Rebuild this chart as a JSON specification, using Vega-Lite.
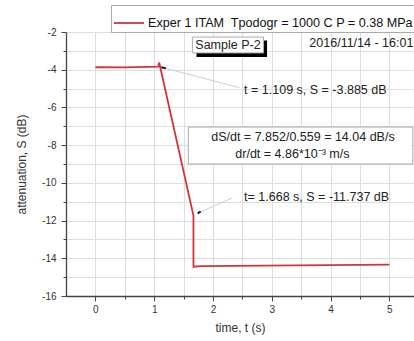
{
  "$schema": "https://vega.github.io/schema/vega-lite/v6.json",
  "width": 348,
  "height": 264,
  "padding": {"left": 66, "top": 32, "right": 0, "bottom": 45},
  "autosize": {"type": "none"},
  "background": "white",
  "config": {
    "font": "Liberation Sans",
    "view": {"stroke": null},
    "legend": {"labelFontSize": 12.6, "labelFont": "Liberation Sans"},
    "axis": {
      "domainColor": "#444",
      "domainWidth": 1.3,
      "tickColor": "#444",
      "tickWidth": 1,
      "labelColor": "#333",
      "labelFont": "Liberation Sans",
      "labelFontSize": 10,
      "titleFont": "Liberation Sans",
      "titleFontSize": 12,
      "titleFontWeight": "normal",
      "titleColor": "#333",
      "gridColor": "#dedede",
      "gridWidth": 1
    }
  },
  "datasets": {
    "line": [
      {"t": 0.0, "S": -3.87, "series": "Exper 1 ITAM\u00a0 Tpodogr = 1000 C P = 0.38 MPa"},
      {"t": 0.5, "S": -3.88, "series": "Exper 1 ITAM\u00a0 Tpodogr = 1000 C P = 0.38 MPa"},
      {"t": 1.07, "S": -3.84, "series": "Exper 1 ITAM\u00a0 Tpodogr = 1000 C P = 0.38 MPa"},
      {"t": 1.085, "S": -3.62, "series": "Exper 1 ITAM\u00a0 Tpodogr = 1000 C P = 0.38 MPa"},
      {"t": 1.668, "S": -11.737, "series": "Exper 1 ITAM\u00a0 Tpodogr = 1000 C P = 0.38 MPa"},
      {"t": 1.668, "S": -14.45, "series": "Exper 1 ITAM\u00a0 Tpodogr = 1000 C P = 0.38 MPa"},
      {"t": 1.8, "S": -14.42, "series": "Exper 1 ITAM\u00a0 Tpodogr = 1000 C P = 0.38 MPa"},
      {"t": 5.0, "S": -14.34, "series": "Exper 1 ITAM\u00a0 Tpodogr = 1000 C P = 0.38 MPa"}
    ],
    "shadow": [
      {"t": 1.72, "t2": 2.92, "S": -2.45, "S2": -3.32}
    ],
    "boxes": [
      {"t": 1.65, "t2": 2.86, "S": -2.27, "S2": -3.11},
      {"t": 1.58, "t2": 5.40, "S": -7.04, "S2": -9.0}
    ],
    "leaders": [
      {"t": 1.2, "S": -3.93, "t2": 2.45, "S2": -4.95},
      {"t": 1.78, "S": -11.55, "t2": 2.33, "S2": -10.8}
    ],
    "arrows": [
      {"t": 1.12, "S": -3.87, "t2": 1.2, "S2": -3.93},
      {"t": 1.74, "S": -11.62, "t2": 1.79, "S2": -11.52}
    ],
    "texts": [
      {"t": 1.70, "S": -2.67, "label": "Sample P-2"},
      {"t": 3.64, "S": -2.58, "label": "2016/11/14 - 16:01"},
      {"t": 2.53, "S": -5.07, "label": "t = 1.109 s, S = -3.885 dB"},
      {"t": 1.97, "S": -7.57, "label": "dS/dt = 7.852/0.559 = 14.04 dB/s"},
      {"t": 2.38, "S": -8.47, "label": "dr/dt = 4.86*10⁻³ m/s"},
      {"t": 2.53, "S": -10.75, "label": "t= 1.668 s, S = -11.737 dB"}
    ]
  },
  "encoding": {
    "x": {
      "field": "t", "type": "quantitative",
      "scale": {"domain": [-0.5, 5.42], "nice": false, "zero": false},
      "axis": {
        "title": "time, t (s)",
        "values": [0, 0.5, 1, 1.5, 2, 2.5, 3, 3.5, 4, 4.5, 5],
        "labelExpr": "datum.value % 1 == 0 ? '' + datum.value : ''",
        "grid": true,
        "tickSize": {"condition": {"test": "datum.value % 1 == 0", "value": 5}, "value": 3},
        "labelPadding": 3,
        "titlePadding": 8
      }
    },
    "y": {
      "field": "S", "type": "quantitative",
      "scale": {"domain": [-16, -2], "nice": false, "zero": false},
      "axis": {
        "title": "attenuation, S (dB)",
        "values": [-16, -15, -14, -13, -12, -11, -10, -9, -8, -7, -6, -5, -4, -3, -2],
        "labelExpr": "datum.value % 2 == 0 ? '' + datum.value : ''",
        "grid": true,
        "tickSize": {"condition": {"test": "datum.value % 2 == 0", "value": 5}, "value": 3},
        "labelPadding": 5,
        "titlePadding": 13
      }
    }
  },
  "layer": [
    {
      "data": {"name": "leaders"},
      "mark": {"type": "rule", "color": "#cfcfcf", "strokeWidth": 1},
      "encoding": {"x2": {"field": "t2"}, "y2": {"field": "S2"}}
    },
    {
      "data": {"name": "arrows"},
      "mark": {"type": "rule", "color": "#111", "strokeWidth": 2},
      "encoding": {"x2": {"field": "t2"}, "y2": {"field": "S2"}}
    },
    {
      "data": {"name": "shadow"},
      "mark": {"type": "rect", "color": "#000"},
      "encoding": {"x2": {"field": "t2"}, "y2": {"field": "S2"}}
    },
    {
      "data": {"name": "boxes"},
      "mark": {"type": "rect", "fill": "white", "stroke": "#aaaaaa", "strokeWidth": 1},
      "encoding": {"x2": {"field": "t2"}, "y2": {"field": "S2"}}
    },
    {
      "data": {"name": "line"},
      "mark": {"type": "line", "strokeWidth": 1.8},
      "encoding": {
        "order": null,
        "color": {
          "field": "series", "type": "nominal",
          "scale": {"range": ["#d3343c"]},
          "legend": {
            "title": null,
            "orient": "none",
            "legendX": 45,
            "legendY": -27,
            "direction": "horizontal",
            "fillColor": "white",
            "strokeColor": "#aaaaaa",
            "padding": 2,
            "symbolType": "stroke",
            "symbolSize": 900,
            "symbolStrokeWidth": 1.8,
            "labelFontSize": 12.6,
            "labelOffset": 3,
            "labelColor": "#111",
            "labelLimit": 400
          }
        }
      }
    },
    {
      "data": {"name": "texts"},
      "mark": {"type": "text", "align": "left", "baseline": "middle", "fontSize": 12.5, "color": "#222"},
      "encoding": {"text": {"field": "label"}}
    }
  ]
}
